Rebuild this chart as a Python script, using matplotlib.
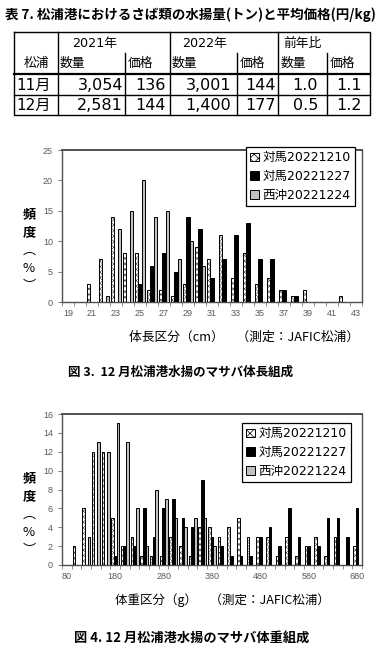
import matplotlib
matplotlib.use('Agg')
import matplotlib.pyplot as plt
import numpy as np
from matplotlib.patches import Patch

plt.rcParams['font.family'] = ['DejaVu Sans', 'Noto Sans CJK JP']
plt.rcParams['hatch.linewidth'] = 0.5
plt.rcParams['hatch.color'] = '#555555'

W, H = 384, 652
JP = ['Noto Sans CJK JP', 'DejaVu Sans']

# ---- table data ----
months = ['11月', '12月']
qty_2021 = [3054, 2581]
price_2021 = [136, 144]
qty_2022 = [3001, 1400]
price_2022 = [144, 177]
ratio_qty = [1.0, 0.5]
ratio_price = [1.1, 1.2]
year_heads = ['2021年', '2022年', '前年比']
sub_heads = ['数量', '価格', '数量', '価格', '数量', '価格']

# ---- length composition (%) ----
len_cats = np.arange(19, 44)
len_labels = [str(c) if (c - 19) % 2 == 0 else '' for c in len_cats]
len_t1210 = [0, 0, 3, 7, 14, 8, 8, 2, 2, 1, 3, 9, 7, 11, 4, 8, 3, 4, 2, 1, 2, 0, 0, 1, 0]
len_t1227 = [0, 0, 0, 0, 0, 0, 3, 6, 8, 5, 14, 12, 4, 7, 11, 13, 7, 7, 2, 1, 0, 0, 0, 0, 0]
len_n1224 = [0, 0, 0, 1, 12, 15, 20, 14, 15, 7, 10, 6, 0, 0, 0, 0, 0, 0, 0, 0, 0, 0, 0, 0, 0]

# ---- weight composition (%) ----
wt_cats = np.arange(80, 700, 20)
wt_t1210 = [0, 2, 6, 12, 12, 5, 2, 3, 1, 1, 1, 3, 2, 1, 4, 4, 3, 4, 5, 3, 3, 3, 1, 3, 1, 2, 3, 1, 3, 0, 2]
wt_t1227 = [0, 0, 0, 0, 0, 1, 2, 2, 6, 3, 6, 7, 5, 4, 9, 3, 2, 1, 1, 1, 3, 4, 2, 6, 3, 2, 2, 5, 5, 3, 6]
wt_n1224 = [0, 0, 3, 13, 12, 15, 13, 6, 2, 8, 7, 5, 4, 5, 5, 2, 0, 0, 0, 0, 0, 0, 0, 0, 0, 0, 0, 0, 0, 0, 0]

series_names = ['対馬20221210', '対馬20221227', '西沖20221224']

fig = plt.figure(figsize=(W / 100, H / 100), dpi=100)

# overlay in pixel coords for table and texts
ov = fig.add_axes([0, 0, 1, 1])
ov.set_xlim(0, W)
ov.set_ylim(H, 0)
ov.axis('off')

ov.text(5, 15, '表 7. 松浦港におけるさば類の水揚量(トン)と平均価格(円/kg)',
        ha='left', va='center', fontsize=9.7, fontweight='bold', family=JP)

# table lines
tl, tr, tt, tb = 14, 370, 32, 115
lc = 'black'
ov.plot([tl, tr, tr, tl, tl], [tt, tt, tb, tb, tt], color=lc, lw=1.0)
ov.plot([tl, tr], [74, 74], color=lc, lw=1.6)
ov.plot([tl, tr], [95, 95], color=lc, lw=1.0)
for x in [58, 170, 278]:
    ov.plot([x, x], [tt, tb], color=lc, lw=1.0)
for x in [125, 237, 327]:
    ov.plot([x, x], [53, tb], color=lc, lw=1.0)

for x, t in zip([72, 182, 283], year_heads):
    ov.text(x, 43, t, ha='left', va='center', fontsize=9.2)
ov.text(36, 63, '松浦', ha='center', va='center', fontsize=9.2, family=JP)
for x, t in zip([60, 128, 172, 240, 281, 330], sub_heads):
    ov.text(x, 63, t, ha='left', va='center', fontsize=9.2, family=JP)

row_y = [85, 105]
right_x = [123, 166, 231, 276, 318, 362]
for i in range(2):
    ov.text(16, row_y[i], months[i], ha='left', va='center', fontsize=11)
    vals = [f'{qty_2021[i]:,}', f'{price_2021[i]}', f'{qty_2022[i]:,}',
            f'{price_2022[i]}', f'{ratio_qty[i]:.1f}', f'{ratio_price[i]:.1f}']
    for x, v in zip(right_x, vals):
        ov.text(x, row_y[i], v, ha='right', va='center', fontsize=11.5)


def px_axes(l, t, r, b):
    return fig.add_axes([l / W, 1 - b / H, (r - l) / W, (b - t) / H])


def draw_comp(ax, cats, labels, s1, s2, s3, ymax, ystep, off, bw):
    x = np.arange(len(cats))
    # hatched series
    ax.bar(x - off, s1, width=bw, color='white', edgecolor='#555555', hatch='xxxxxx', lw=0, zorder=2)
    ax.bar(x - off, s1, width=bw, facecolor='none', edgecolor='black', lw=0.7, zorder=3)
    ax.bar(x, s2, width=bw, color='black', edgecolor='black', lw=0.7, zorder=3)
    ax.bar(x + off, s3, width=bw, color='#c0c0c0', edgecolor='black', lw=0.7, zorder=3)
    ax.set_xlim(-0.5, len(cats) - 0.5)
    ax.set_ylim(0, ymax)
    ax.set_yticks(np.arange(0, ymax + 1, ystep))
    ax.set_xticks(x)
    ax.set_xticklabels(labels)
    ax.set_xticks(np.arange(-0.5, len(cats)), minor=True)
    ax.tick_params(axis='x', which='major', length=0, pad=5)
    ax.tick_params(axis='x', which='minor', length=3, color='#808080')
    ax.tick_params(axis='y', length=3, color='#808080')
    ax.tick_params(labelsize=6.5, labelcolor='#595959')
    for lab in ax.get_xticklabels() + ax.get_yticklabels():
        lab.set_family('Liberation Sans')
    for sp in ax.spines.values():
        sp.set_color('#505050')
        sp.set_linewidth(1.0)
    ax.spines['top'].set_linewidth(1.4)


def add_legend(ax, right, top):
    handles = [Patch(facecolor='white', edgecolor='black', hatch='xxxx', lw=0.7),
               Patch(facecolor='black', edgecolor='black', lw=0.7),
               Patch(facecolor='#c0c0c0', edgecolor='black', lw=0.7)]
    leg = ax.legend(handles, series_names, loc='upper right',
                    bbox_to_anchor=(right / W, 1 - top / H), bbox_transform=fig.transFigure,
                    borderaxespad=0, fancybox=False, framealpha=1, edgecolor='black',
                    handlelength=0.7, handleheight=0.7, handletextpad=0.3,
                    labelspacing=0.45, borderpad=0.35, prop={'size': 9.0})
    leg.get_frame().set_linewidth(0.9)
    leg.set_zorder(5)


def add_ylabel(ytop):
    for i, ch in enumerate(['頻', '度', '︵', '%', '︶']):
        ov.text(29, ytop + i * 18, ch, ha='center', va='center', fontsize=9.5,
                fontweight='bold' if i < 2 else 'normal', family=JP)


# chart 1
ax1 = px_axes(62, 150, 362, 302)
draw_comp(ax1, len_cats, len_labels, len_t1210, len_t1227, len_n1224, 25, 5, 0.29, 0.27)
add_legend(ax1, 355, 147)
add_ylabel(214)
ov.text(129, 337, '体長区分（cm）　（測定：JAFIC松浦）', ha='left', va='center', fontsize=9.2, family=JP)
ov.text(181, 372, '図 3.  12 月松浦港水揚のマサバ体長組成', ha='center', va='center',
        fontsize=9, fontweight='bold', family=JP)

# chart 2
wt_labels = [str(c) if (c - 80) % 100 == 0 else '' for c in wt_cats]
ax2 = px_axes(62, 414, 362, 565)
draw_comp(ax2, wt_cats, wt_labels, wt_t1210, wt_t1227, wt_n1224, 16, 2, 0.28, 0.26)
add_legend(ax2, 351, 423)
add_ylabel(478)
ov.text(115, 600, '体重区分（g）　（測定：JAFIC松浦）', ha='left', va='center', fontsize=9.0, family=JP)
ov.text(192, 638, '図 4. 12 月松浦港水揚のマサバ体重組成', ha='center', va='center',
        fontsize=9.5, fontweight='bold', family=JP)

fig.savefig('out.png', dpi=100)
